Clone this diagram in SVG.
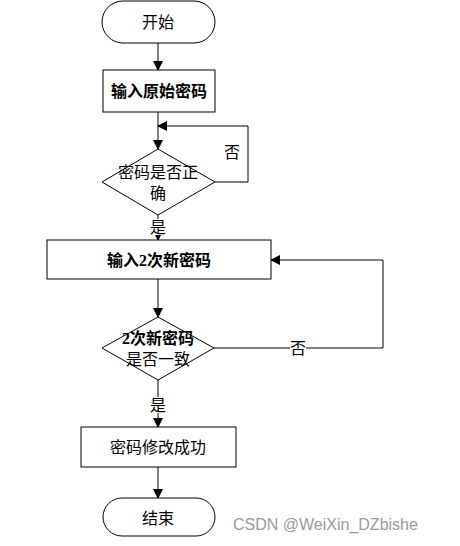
<svg xmlns="http://www.w3.org/2000/svg" width="460" height="546" viewBox="0 0 460 546">
<defs>
<marker id="ah" markerWidth="10" markerHeight="10" refX="9" refY="5" orient="auto" markerUnits="userSpaceOnUse">
<path d="M0,0 L10,5 L0,10 z" fill="#000"/>
</marker>
<style>
.s{fill:#fff;stroke:#000;stroke-width:1}
.t{font-family:"Liberation Serif","Noto Sans CJK SC",serif;font-size:16px;fill:#000;text-anchor:middle;dominant-baseline:central}
.b{font-weight:bold}
.c{fill:none;stroke:#000;stroke-width:1}
</style>
</defs>
<rect width="460" height="546" fill="#fff"/>
<g id="connectors">
<path class="c" d="M158,43 V70" marker-end="url(#ah)"/>
<path class="c" d="M158,112 V149" marker-end="url(#ah)"/>
<path class="c" d="M215,182 H248 V126 H158" marker-end="url(#ah)"/>
<path class="c" d="M158,215 V240" marker-end="url(#ah)"/>
<path class="c" d="M158,279 V317" marker-end="url(#ah)"/>
<path class="c" d="M214,348 H383 V260 H271" marker-end="url(#ah)"/>
<path class="c" d="M158,380 V427" marker-end="url(#ah)"/>
<path class="c" d="M158,467 V498" marker-end="url(#ah)"/>
<text class="t" x="232" y="152">否</text>
<rect x="150" y="219" width="16" height="16" fill="#fff"/>
<text class="t" x="158" y="227">是</text>
<rect x="290" y="340" width="16" height="16" fill="#fff"/>
<text class="t" x="298" y="348">否</text>
<rect x="150" y="397" width="16" height="16" fill="#fff"/>
<text class="t" x="158" y="405">是</text>
</g>
<g id="start">
<rect class="s" x="102" y="1" width="113" height="42" rx="21"/>
<text class="t" x="158" y="22">开始</text>
</g>
<g id="input-old">
<rect class="s" x="103" y="70" width="112" height="42"/>
<text class="t b" x="159" y="91">输入原始密码</text>
</g>
<g id="check-old">
<polygon class="s" points="158,149 215,182 158,215 102,182"/>
<text class="t" x="158" y="172">密码是否正</text>
<text class="t" x="158" y="193">确</text>
</g>
<g id="input-new">
<rect class="s" x="47" y="240" width="224" height="39"/>
<text class="t b" x="159" y="260">输入2次新密码</text>
</g>
<g id="check-new">
<polygon class="s" points="158,317 214,348 158,380 102,348"/>
<text class="t b" x="158" y="338">2次新密码</text>
<text class="t" x="158" y="359">是否一致</text>
</g>
<g id="success">
<rect class="s" x="81" y="427" width="155" height="40"/>
<text class="t" x="158" y="447">密码修改成功</text>
</g>
<g id="end">
<rect class="s" x="103" y="498" width="112" height="38" rx="19"/>
<text class="t" x="158" y="518">结束</text>
</g>
<text x="233" y="530" font-family="Liberation Sans,Arial,sans-serif" font-size="16" fill="#999">CSDN @WeiXin_DZbishe</text>
</svg>
